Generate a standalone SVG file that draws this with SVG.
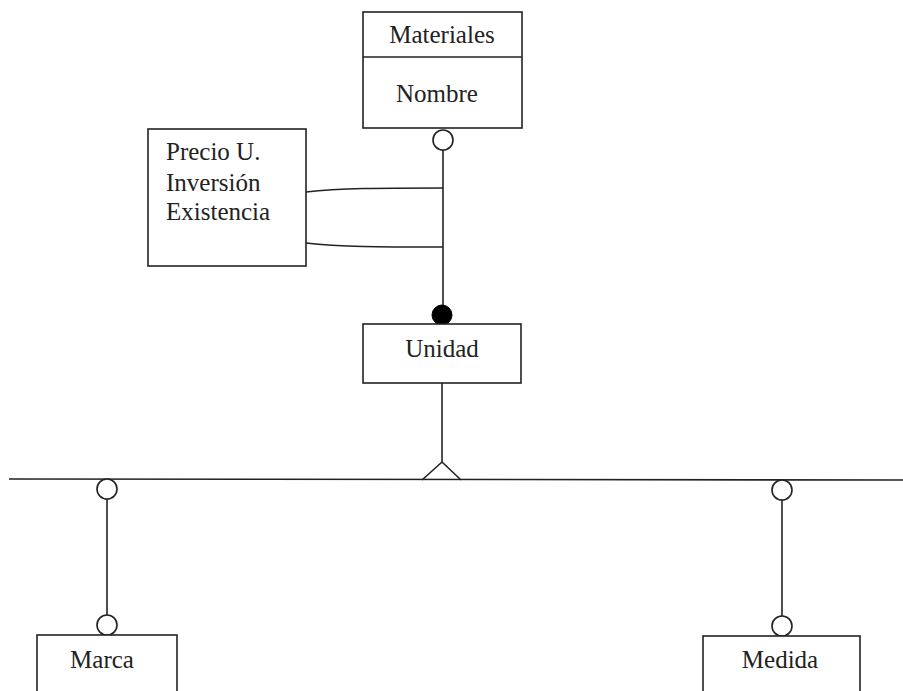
<svg xmlns="http://www.w3.org/2000/svg" width="903" height="691" viewBox="0 0 903 691">
  <style>
    .box { fill: #fff; stroke: #222; stroke-width: 1.6; }
    .ln { fill: none; stroke: #222; stroke-width: 1.6; }
    .oc { fill: #fff; stroke: #222; stroke-width: 1.6; }
    .fc { fill: #000; stroke: #000; stroke-width: 1; }
    text { font-family: "Liberation Serif", "Times New Roman", serif; font-size: 25px; fill: #222; }
    .c { text-anchor: middle; }
  </style>
  <rect width="903" height="691" fill="#fff"/>

  <g id="connectors">
    <!-- Materiales to Unidad -->
    <line class="ln" x1="443" y1="150" x2="443" y2="306"/>
    <!-- attribute links -->
    <path class="ln" d="M306,192 C340,188 380,188 443,188"/>
    <path class="ln" d="M306,243 C340,247 380,247 443,247"/>
    <!-- Unidad to generalization bar -->
    <line class="ln" x1="442" y1="383" x2="442" y2="462"/>
    <path class="ln" d="M422,480 L442,462 L461,480"/>
    <line class="ln" x1="9" y1="479" x2="903" y2="480"/>
    <!-- Marca branch -->
    <line class="ln" x1="107" y1="499" x2="107" y2="615"/>
    <!-- Medida branch -->
    <line class="ln" x1="782" y1="500" x2="782" y2="616"/>
    <!-- end symbols -->
    <circle class="oc" cx="443" cy="140" r="10"/>
    <circle class="fc" cx="442" cy="315" r="10"/>
    <circle class="oc" cx="107" cy="489" r="10"/>
    <circle class="oc" cx="107" cy="625" r="10"/>
    <circle class="oc" cx="782" cy="490" r="10"/>
    <circle class="oc" cx="782" cy="626" r="10"/>
  </g>

  <g id="materiales">
    <rect class="box" x="363" y="12" width="159" height="116"/>
    <line class="ln" x1="363" y1="57" x2="522" y2="57"/>
    <text class="c" x="442" y="43">Materiales</text>
    <text class="c" x="437" y="102">Nombre</text>
  </g>

  <g id="atributos">
    <rect class="box" x="148" y="129" width="158" height="137"/>
    <text x="166" y="160">Precio U.</text>
    <text x="166" y="191">Inversión</text>
    <text x="166" y="220">Existencia</text>
  </g>

  <g id="unidad">
    <rect class="box" x="363" y="324" width="158" height="59"/>
    <text class="c" x="442" y="357">Unidad</text>
  </g>

  <g id="marca">
    <rect class="box" x="37" y="635" width="140" height="80"/>
    <text class="c" x="102" y="668">Marca</text>
  </g>

  <g id="medida">
    <rect class="box" x="703" y="636" width="157" height="80"/>
    <text class="c" x="780" y="668">Medida</text>
  </g>
</svg>
